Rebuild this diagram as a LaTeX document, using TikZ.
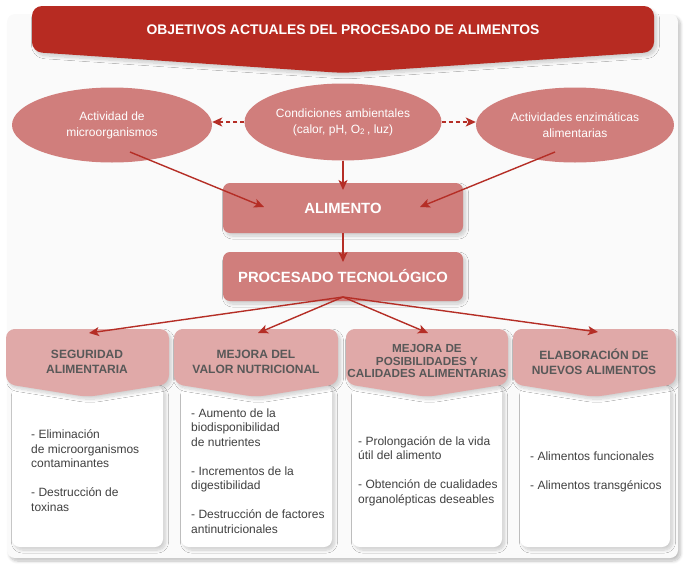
\documentclass[tikz,border=0pt]{standalone}
\usepackage{fontspec}
\setmainfont{Liberation Sans}
\usetikzlibrary{shapes.geometric,arrows.meta,shadows.blur}
\definecolor{bannerred}{HTML}{B72B22}
\definecolor{ellred}{HTML}{D07E7C}
\definecolor{hdrpink}{HTML}{E0A9A8}
\definecolor{arrred}{HTML}{B52E26}
\definecolor{hdrtextc}{HTML}{585858}
\definecolor{conttextc}{HTML}{404040}
\definecolor{panelc}{HTML}{FAFAFA}
\tikzset{
  softshadow/.style={blur shadow={shadow blur steps=10,shadow xshift=2.5pt,shadow yshift=-3pt,shadow blur radius=3pt,shadow opacity=18}},
  ell/.style={ellipse,fill=ellred,minimum width=200pt,minimum height=75pt,inner sep=0pt,text=white,align=center,font=\fontsize{12}{16}\selectfont},
  mainbox/.style={rectangle,rounded corners=7pt,fill=ellred,minimum width=240pt,text=white,font=\bfseries\fontsize{14.8}{17}\selectfont,softshadow},
  hdrfill/.style={fill=hdrpink,rounded corners=9pt,softshadow},
  hdrtext/.style={align=center,text=hdrtextc,font=\bfseries\fontsize{12}{15}\selectfont,inner sep=0pt},
  contbox/.style={fill=white,rounded corners=8pt,softshadow},
  conttext/.style={align=left,text=conttextc,font=\fontsize{12}{14.5}\selectfont,inner sep=0pt,anchor=base west},
  arr/.style={draw=arrred,line width=1.4pt,-{Stealth[length=10pt,width=9pt,inset=2.5pt]}},
  dasharr/.style={arr,dash pattern=on 4pt off 3pt}
}
\begin{document}
\begin{tikzpicture}[x=1pt,y=-1pt]
\useasboundingbox (0,0) rectangle (686,571);
% panel
\fill[panelc,rounded corners=8pt,blur shadow={shadow blur steps=10,shadow xshift=2.5pt,shadow yshift=-3pt,shadow blur radius=3pt,shadow opacity=25}] (7,14) rectangle (678,558);
% banner
\fill[bannerred,rounded corners=10pt,softshadow] (32,52) -- (32,6) -- (654,6) -- (654,52) -- (343,73) -- cycle;
\node[text=white,font=\bfseries\fontsize{13.9}{16}\selectfont] (title) at (343,30) {OBJETIVOS ACTUALES DEL PROCESADO DE ALIMENTOS};
% ellipses
\node[ell] (micro) at (112,125) {Actividad de\\microorganismos};
\node[ell,minimum width=197pt,minimum height=77pt] (cond) at (343,122) {Condiciones ambientales\\(calor, pH, O\textsubscript{2}\,, luz)};
\node[ell,minimum width=198pt] (enz) at (575,125) {Actividades enzimáticas\\alimentarias};
% main boxes
\node[mainbox,minimum height=50pt] (alim) at (343,208) {ALIMENTO};
\node[mainbox,minimum height=49pt] (proc) at (343,276.5) {PROCESADO TECNOLÓGICO};
% content boxes
\fill[contbox] (12,385) rectangle (163,547);
\fill[contbox] (181,385) rectangle (332,547);
\fill[contbox] (352,385) rectangle (502,547);
\fill[contbox] (520,385) rectangle (670,547);
% header boxes
\fill[hdrfill] (6,384) -- (6,329) -- (169,329) -- (169,384) -- (87.5,397) -- cycle;
\fill[hdrfill] (174,384) -- (174,329) -- (338,329) -- (338,384) -- (256,397) -- cycle;
\fill[hdrfill] (346,384) -- (346,329) -- (508,329) -- (508,384) -- (427,397) -- cycle;
\fill[hdrfill] (513,384) -- (513,329) -- (676,329) -- (676,384) -- (594.5,397) -- cycle;
\node[hdrtext] (h1) at (87,362) {SEGURIDAD\\ALIMENTARIA};
\node[hdrtext] (h2) at (256,362) {MEJORA DEL\\VALOR NUTRICIONAL};
\node[hdrtext,font=\bfseries\fontsize{11.7}{12.7}\selectfont] (h3) at (427,361) {MEJORA DE\\POSIBILIDADES Y\\CALIDADES ALIMENTARIAS};
\node[hdrtext] (h4) at (594,362) {ELABORACIÓN DE\\NUEVOS ALIMENTOS};
% content texts (anchored at the baseline of the last line)
\node[conttext] (c1) at (31,511) {- Eliminación\\de microorganismos\\contaminantes\\[14.5pt]- Destrucción de\\toxinas};
\node[conttext] (c2) at (191,533) {- Aumento de la\\biodisponibilidad\\de nutrientes\\[14.5pt]- Incrementos de la\\digestibilidad\\[14.5pt]- Destrucción de factores\\antinutricionales};
\node[conttext] (c3) at (358,503) {- Prolongación de la vida\\útil del alimento\\[14.5pt]- Obtención de cualidades\\organolépticas deseables};
\node[conttext] (c4) at (530,489) {- Alimentos funcionales\\[14.5pt]- Alimentos transgénicos};
% connector coordinates
\coordinate (mstart) at (130,152);
\coordinate (estart) at (555,152);
\coordinate (aleft) at (264,207);
\coordinate (aright) at (420,207);
\coordinate (atop) at (343,190);
\coordinate (ptop) at (343,262);
\coordinate (pfan) at (343,297);
\coordinate (t1) at (89,333);
\coordinate (t2) at (258,333);
\coordinate (t3) at (428,333);
\coordinate (t4) at (598,332);
% connectors
\draw[dasharr] (cond.west) -- (micro.east |- cond.west);
\draw[dasharr] (cond.east) -- (enz.west |- cond.east);
\draw[arr] (mstart) -- (aleft);
\draw[arr] (estart) -- (aright);
\draw[arr] (cond.south) -- (atop);
\draw[arr] (alim.south) -- (ptop);
\draw[arr] (pfan) -- (t1);
\draw[arr] (pfan) -- (t2);
\draw[arr] (pfan) -- (t3);
\draw[arr] (pfan) -- (t4);
\end{tikzpicture}
\end{document}
